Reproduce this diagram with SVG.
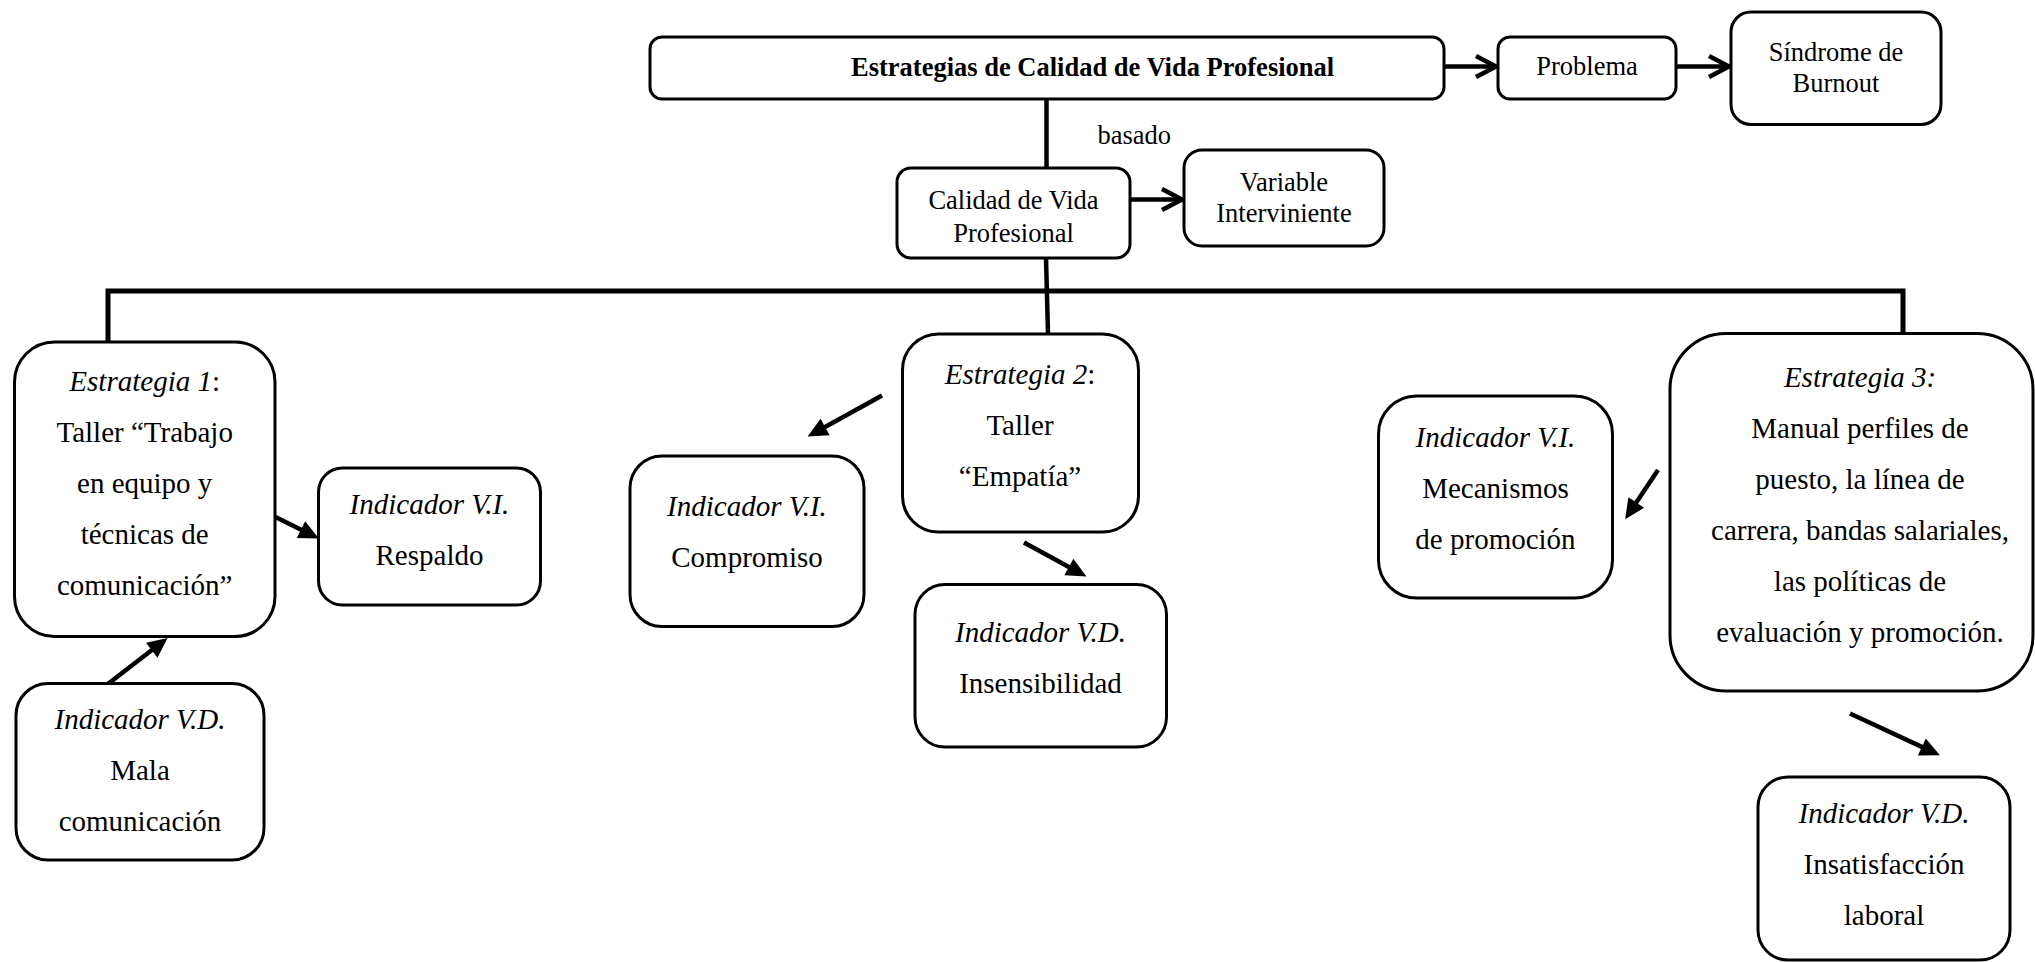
<svg xmlns="http://www.w3.org/2000/svg" width="2035" height="962" viewBox="0 0 2035 962">
<defs>
<style>
.box{fill:#fff;stroke:#000;stroke-width:3}
.t{font-family:"Liberation Serif","Times New Roman",serif;fill:#000;text-anchor:middle}
.s{font-size:26.5px}
.b{font-size:29px}
.i{font-style:italic}
.ln{fill:none;stroke:#000;stroke-width:4.5}
.bar{fill:none;stroke:#000;stroke-width:5;stroke-linejoin:miter}
</style>
<marker id="chev" markerUnits="userSpaceOnUse" markerWidth="30" markerHeight="30" viewBox="-4 -4 30 30" refX="20" refY="10.5" orient="auto" overflow="visible">
<path d="M0,0 L20,10.5 L0,21" fill="none" stroke="#000" stroke-width="4.5"/>
</marker>
<marker id="tri" markerUnits="userSpaceOnUse" markerWidth="20" markerHeight="20" viewBox="0 0 17 16" refX="4" refY="8" orient="auto" overflow="visible">
<path d="M0,0 L17,8 L0,16 z" fill="#000"/>
</marker>
</defs>

<g id="connectors">
<line class="ln" x1="1444" y1="66.5" x2="1496" y2="66.5" marker-end="url(#chev)"/>
<line class="ln" x1="1676" y1="66.5" x2="1729" y2="66.5" marker-end="url(#chev)"/>
<line class="ln" x1="1046.5" y1="99" x2="1046.5" y2="168"/>
<line class="ln" x1="1130" y1="199.5" x2="1182" y2="199.5" marker-end="url(#chev)"/>
<line class="ln" x1="1046" y1="258" x2="1048" y2="334"/>
<polyline class="bar" points="108,342 108,291 1903,291 1903,334"/>
<line class="ln" x1="882" y1="395.5" x2="821" y2="429.2" marker-end="url(#tri)"/>
<line class="ln" x1="1024" y1="542.5" x2="1073" y2="569.2" marker-end="url(#tri)"/>
<line class="ln" x1="275.5" y1="517" x2="305.2" y2="531.7" marker-end="url(#tri)"/>
<line class="ln" x1="108.5" y1="683.5" x2="155.5" y2="647.3" marker-end="url(#tri)"/>
<line class="ln" x1="1658" y1="470" x2="1633.6" y2="506.5" marker-end="url(#tri)"/>
<line class="ln" x1="1850" y1="713.5" x2="1926.1" y2="748.9" marker-end="url(#tri)"/>
<text class="t s" x="1097.5" y="144" style="text-anchor:start">basado</text>
</g>

<g id="titulo">
<rect class="box" x="650" y="37" width="794" height="62" rx="12"/>
<text class="t s" x="851" y="76" style="text-anchor:start;font-weight:bold">Estrategias de Calidad de Vida Profesional</text>
</g>

<g id="problema">
<rect class="box" x="1498" y="37" width="178" height="62" rx="12"/>
<text class="t s" x="1587" y="75">Problema</text>
</g>

<g id="sindrome">
<rect class="box" x="1731" y="12" width="210" height="112.5" rx="20"/>
<text class="t s" x="1836" y="60.7">Síndrome de</text>
<text class="t s" x="1836" y="91.7">Burnout</text>
</g>

<g id="calidad">
<rect class="box" x="897" y="168" width="233" height="90" rx="14"/>
<text class="t s" x="1013.5" y="208.5">Calidad de Vida</text>
<text class="t s" x="1013.5" y="241.5">Profesional</text>
</g>

<g id="variable">
<rect class="box" x="1184" y="150" width="200" height="96" rx="18"/>
<text class="t s" x="1284" y="190.7">Variable</text>
<text class="t s" x="1284" y="222">Interviniente</text>
</g>

<g id="estrategia1">
<rect class="box" x="14.5" y="342" width="260.5" height="294.5" rx="40"/>
<text class="t b" x="144.7" y="391"><tspan class="i">Estrategia 1</tspan>:</text>
<text class="t b" x="144.7" y="442">Taller “Trabajo</text>
<text class="t b" x="144.7" y="493">en equipo y</text>
<text class="t b" x="144.7" y="544">técnicas de</text>
<text class="t b" x="144.7" y="595">comunicación”</text>
</g>

<g id="respaldo">
<rect class="box" x="318.5" y="468" width="222" height="137" rx="24"/>
<text class="t b i" x="429.5" y="514">Indicador V.I.</text>
<text class="t b" x="429.5" y="565">Respaldo</text>
</g>

<g id="mala">
<rect class="box" x="16" y="683.5" width="248" height="176.5" rx="32"/>
<text class="t b i" x="140" y="729">Indicador V.D.</text>
<text class="t b" x="140" y="780">Mala</text>
<text class="t b" x="140" y="831">comunicación</text>
</g>

<g id="estrategia2">
<rect class="box" x="902.5" y="334" width="236" height="198" rx="36"/>
<text class="t b" x="1020" y="383.5"><tspan class="i">Estrategia 2</tspan>:</text>
<text class="t b" x="1020" y="434.5">Taller</text>
<text class="t b" x="1020" y="485.5">“Empatía”</text>
</g>

<g id="compromiso">
<rect class="box" x="630" y="456" width="234" height="170.5" rx="32"/>
<text class="t b i" x="747" y="516">Indicador V.I.</text>
<text class="t b" x="747" y="567">Compromiso</text>
</g>

<g id="insensibilidad">
<rect class="box" x="915" y="584.5" width="251.5" height="162.5" rx="30"/>
<text class="t b i" x="1040.5" y="642">Indicador V.D.</text>
<text class="t b" x="1040.5" y="693">Insensibilidad</text>
</g>

<g id="mecanismos">
<rect class="box" x="1378.5" y="396" width="234" height="202" rx="38"/>
<text class="t b i" x="1495.5" y="447">Indicador V.I.</text>
<text class="t b" x="1495.5" y="498">Mecanismos</text>
<text class="t b" x="1495.5" y="549">de promoción</text>
</g>

<g id="estrategia3">
<rect class="box" x="1670" y="333.5" width="363" height="357.5" rx="56"/>
<text class="t b i" x="1860" y="387">Estrategia 3:</text>
<text class="t b" x="1860" y="438">Manual perfiles de</text>
<text class="t b" x="1860" y="489">puesto, la línea de</text>
<text class="t b" x="1860" y="540">carrera, bandas salariales,</text>
<text class="t b" x="1860" y="591">las políticas de</text>
<text class="t b" x="1860" y="642">evaluación y promoción.</text>
</g>

<g id="insatisfaccion">
<rect class="box" x="1758" y="777" width="252" height="183" rx="30"/>
<text class="t b i" x="1884" y="823">Indicador V.D.</text>
<text class="t b" x="1884" y="874">Insatisfacción</text>
<text class="t b" x="1884" y="925">laboral</text>
</g>
</svg>
